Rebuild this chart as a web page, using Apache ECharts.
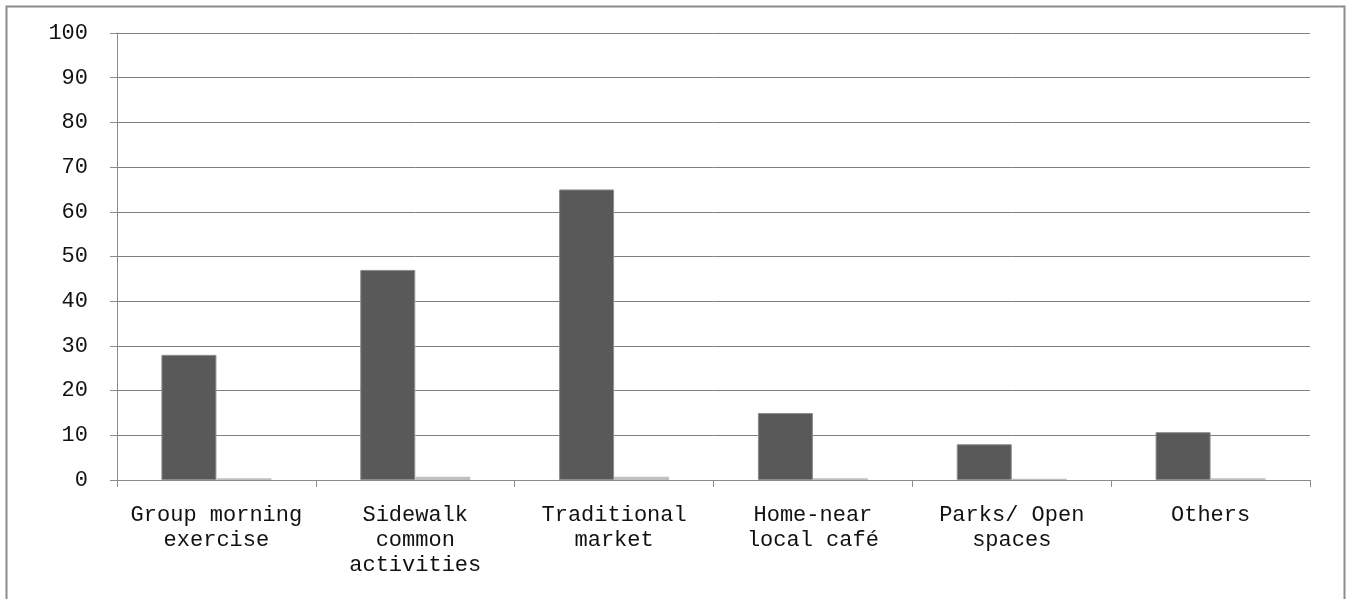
<!DOCTYPE html>
<html>
<head>
<meta charset="utf-8">
<script src="https://cdn.jsdelivr.net/npm/echarts@6/dist/echarts.min.js"></script>
<style>
html,body{margin:0;padding:0;background:#fff;}
#chart{width:1351px;height:599px;}
</style>
</head>
<body>
<div id="chart"></div>
<script>
const categories = ["Group morning\nexercise", "Sidewalk\ncommon\nactivities", "Traditional\nmarket", "Home-near\nlocal café", "Parks/ Open\nspaces", "Others"];
const seriesA = [28, 47, 65, 15, 8, 10.7];
const seriesB = [0.4, 0.7, 0.7, 0.4, 0.3, 0.4];
const yTicks = {min: 0, max: 100, interval: 10};

const FONT = '"Liberation Mono", monospace';
const chart = echarts.init(document.getElementById('chart'), null, {renderer: 'canvas'});
chart.setOption({
  animation: false,
  backgroundColor: '#ffffff',
  graphic: [{
    type: 'rect', z: -1,
    shape: {x: 6.5, y: 6.5, width: 1338, height: 700},
    style: {fill: 'none', stroke: '#8c8c8c', lineWidth: 2}
  }],
  grid: {left: 117, right: 41, top: 33, bottom: 119, containLabel: false},
  xAxis: {
    type: 'category',
    data: categories,
    axisLine: {lineStyle: {color: '#8c8c8c', width: 1}},
    axisTick: {show: true, alignWithLabel: false, length: 7, lineStyle: {color: '#8c8c8c'}},
    axisLabel: {
      interval: 0, margin: 23, color: '#111', fontFamily: FONT, fontSize: 22,
      lineHeight: 25, align: 'center'
    },
    splitLine: {show: false}
  },
  yAxis: {
    type: 'value',
    min: yTicks.min, max: yTicks.max, interval: yTicks.interval,
    axisLine: {show: true, lineStyle: {color: '#8c8c8c', width: 1}},
    axisTick: {show: true, length: 7, lineStyle: {color: '#8c8c8c'}},
    axisLabel: {margin: 29, color: '#111', fontFamily: FONT, fontSize: 22},
    splitLine: {show: true, lineStyle: {color: '#808080', width: 1}}
  },
  series: [
    {
      type: 'bar', data: seriesA, barWidth: 55, barGap: '0%',
      itemStyle: {color: '#595959', borderColor: '#8c8c8c', borderWidth: 1}
    },
    {
      type: 'bar', data: seriesB, barWidth: 55, barGap: '0%',
      itemStyle: {color: '#c0c0c0', borderColor: '#b0b0b0', borderWidth: 0}
    }
  ]
});
</script>
</body>
</html>
